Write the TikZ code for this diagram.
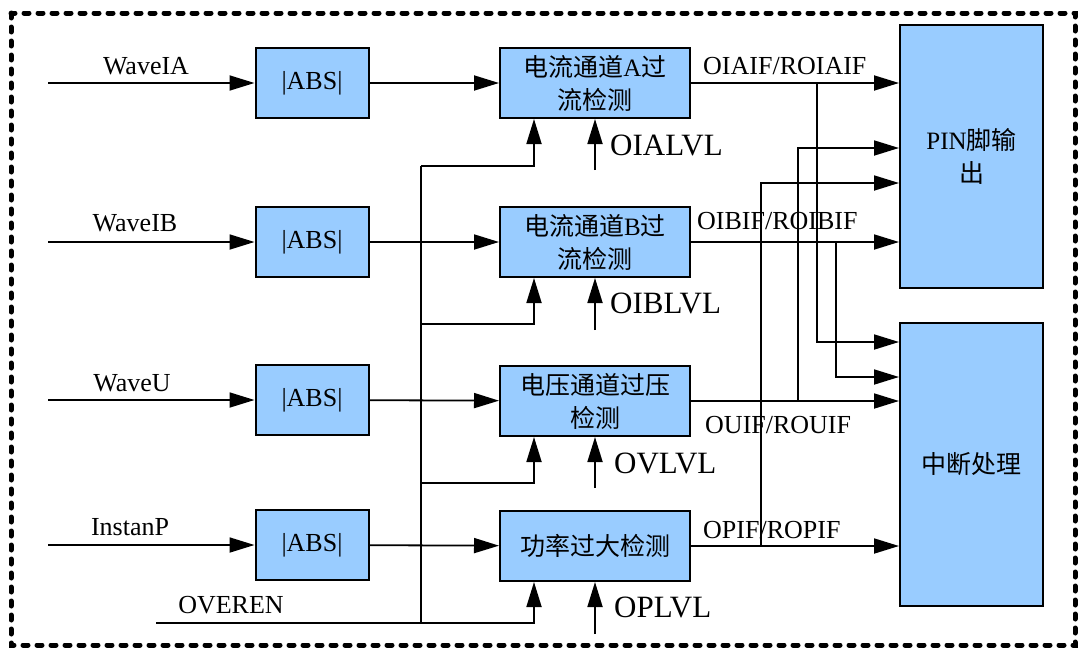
\documentclass[tikz,border=0pt]{standalone}
\usepackage{fontspec}
\setmainfont{Liberation Serif}
\newfontfamily\cjk{Noto Sans CJK SC}
\usepackage{xcolor}
\usetikzlibrary{positioning, arrows.meta}
\definecolor{boxblue}{RGB}{153,204,255}

\begin{document}
\begin{tikzpicture}[
    x=1pt, y=-1pt,
    block/.style={rectangle, draw, line width=2pt, fill=boxblue, align=center, inner sep=0pt, font=\fontsize{25}{33}\selectfont},
    abs block/.style={block, minimum width=113pt, minimum height=70pt, font=\fontsize{26}{33}\selectfont},
    det block/.style={block, minimum width=190pt, minimum height=70pt},
    out block/.style={block, minimum width=143pt},
    sig label/.style={inner sep=0pt, font=\fontsize{26}{30}\selectfont},
    lvl label/.style={inner sep=0pt, anchor=west, font=\fontsize{31}{36}\selectfont},
    out label/.style={inner sep=0pt, anchor=west, font=\fontsize{26}{30}\selectfont},
    wire/.style={line width=1.8pt},
    arrow/.style={-{Triangle[length=25pt, width=15pt]}, line width=1.8pt}
]
\useasboundingbox (0,0) rectangle (1078,648);

% frame
\draw[line width=5pt, line cap=round, dash pattern=on 5pt off 9pt] (11,13) rectangle (1075,645);

% blocks
\node[abs block] (absIA) at (312,83) {|ABS|};
\node[abs block] (absIB) at (312,242) {|ABS|};
\node[abs block] (absU) at (312,400) {|ABS|};
\node[abs block] (absP) at (312,545) {|ABS|};

\node[det block] (detIA) at (595,83) {{\cjk 电流通道}A{\cjk 过}\\{\cjk 流检测}};
\node[det block] (detIB) at (595,242) {{\cjk 电流通道}B{\cjk 过}\\{\cjk 流检测}};
\node[det block] (detU) at (595,401) {{\cjk 电压通道过压}\\{\cjk 检测}};
\node[det block] (detP) at (595,546) {{\cjk 功率过大检测}};

\node[out block, minimum height=263pt] (pin) at (971.5,156.5) {PIN{\cjk 脚输}\\{\cjk 出}};
\node[out block, minimum height=283pt] (irq) at (971.5,464.5) {{\cjk 中断处理}};

% inputs
\coordinate (inIA) at (48,83);
\coordinate (inIB) at (48,242);
\coordinate (inU) at (48,400);
\coordinate (inP) at (48,545);
\node[sig label] (lblIA) at (146,66) {WaveIA};
\node[sig label] (lblIB) at (135,223) {WaveIB};
\node[sig label] (lblU) at (132,383) {WaveU};
\node[sig label] (lblP) at (130,527) {InstanP};

\draw[arrow] (inIA) -- (absIA);
\draw[arrow] (inIB) -- (absIB);
\draw[arrow] (inU) -- (absU);
\draw[arrow] (inP) -- (absP);

\draw[arrow] (absIA) -- (detIA);
\draw[arrow] (absIB) -- (detIB);
\draw[arrow] (absU) -- (detU);
\draw[arrow] (absP) -- (detP);

% enable bus
\coordinate (busTop) at (421,166);
\coordinate (busIB) at (421,324);
\coordinate (busU) at (421,483);
\coordinate (busBot) at (421,623);
\coordinate (enIn) at (156,623);
\node[sig label] (lblEn) at (231,605) {OVEREN};

\draw[wire] (enIn) -- (busBot);
\draw[wire] (busTop) -- (busBot);
\draw[arrow] (busTop) -| ([xshift=-61pt]detIA.south);
\draw[arrow] (busIB) -| ([xshift=-61pt]detIB.south);
\draw[arrow] (busU) -| ([xshift=-61pt]detU.south);
\draw[arrow] (busBot) -| ([xshift=-61pt]detP.south);

% thresholds
\coordinate (lvlIA) at (595,170);
\coordinate (lvlIB) at (595,330);
\coordinate (lvlU) at (595,488);
\coordinate (lvlP) at (595,634);
\draw[arrow] (lvlIA) -- (detIA.south);
\draw[arrow] (lvlIB) -- (detIB.south);
\draw[arrow] (lvlU) -- (detU.south);
\draw[arrow] (lvlP) -- (detP.south);
\node[lvl label] (lblLvlIA) at (610,145) {OIALVL};
\node[lvl label] (lblLvlIB) at (610,303) {OIBLVL};
\node[lvl label] (lblLvlU) at (614,463) {OVLVL};
\node[lvl label] (lblLvlP) at (614,607) {OPLVL};

% outputs
\draw[arrow] (detIA.east) -- (detIA.east -| pin.west);
\draw[arrow] (detIB.east) -- (detIB.east -| pin.west);
\draw[arrow] (detU.east) -- (detU.east -| irq.west);
\draw[arrow] (detP.east) -- (detP.east -| irq.west);
\node[out label] (lblOutIA) at (703,66) {OIAIF/ROIAIF};
\node[out label] (lblOutIB) at (697,221) {OIBIF/ROIBIF};
\node[out label] (lblOutU) at (705,425) {OUIF/ROUIF};
\node[out label] (lblOutP) at (703,530) {OPIF/ROPIF};

% taps
\coordinate (tapIA) at (817,83);
\coordinate (tapIB) at (836,242);
\coordinate (tapU) at (798,401);
\coordinate (tapP) at (761,546);
\draw[arrow] (tapIA) |- ([yshift=122.5pt]irq.west);
\draw[arrow] (tapIB) |- ([yshift=87.5pt]irq.west);
\draw[arrow] (tapU) |- ([yshift=8.5pt]pin.west);
\draw[arrow] (tapP) |- ([yshift=-26.5pt]pin.west);

\end{tikzpicture}
\end{document}
